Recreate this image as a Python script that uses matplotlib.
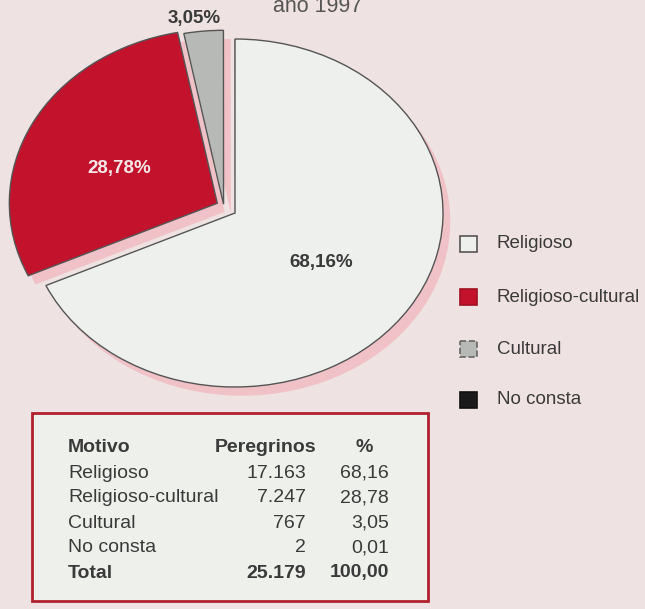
import matplotlib.pyplot as plt
from matplotlib.patches import Rectangle

plt.rcParams['font.family'] = ['Liberation Sans', 'DejaVu Sans']

motivos = ["Religioso", "Religioso-cultural", "Cultural", "No consta"]
peregrinos = [17163, 7247, 767, 2]
porcentajes = [68.16, 28.78, 3.05, 0.01]
total_peregrinos = 25179
total_pct = 100.00
colores = ["#eef0ee", "#c2122c", "#b6b9b6", "#1a1a1a"]
titulo = "año 1997"

W, H = 645, 609
txt = "#3a3a3a"


def pct(v):
    return f"{v:.2f}".replace(".", ",")


def miles(v):
    return f"{v:,}".replace(",", ".")


fig = plt.figure(figsize=(W / 100, H / 100), dpi=100)
fig.patch.set_facecolor("#efe2e2")

# pie axes sized so one data unit is 208 px wide and 174 px tall (tilted look)
cx, cy, rx, ry, span = 235, 213, 208, 174, 1.3
ax = fig.add_axes([(cx - span * rx) / W, (H - cy - span * ry) / H,
                   2 * span * rx / W, 2 * span * ry / H])

offsets = [(0, 0), (-0.085, 0.056), (-0.055, 0.05), (0, 0)]

# pink underside of the 3d pie
shadow, _ = ax.pie(porcentajes, colors=["#f0c2c7"] * 4, startangle=90,
                   counterclock=False, wedgeprops=dict(linewidth=0))
for w, (dx, dy) in zip(shadow, offsets):
    w.set_center((dx + 0.035, dy - 0.05))

wedges, _ = ax.pie(porcentajes, colors=colores, startangle=90, counterclock=False,
                   wedgeprops=dict(edgecolor="#555555", linewidth=1.0))
for w, (dx, dy) in zip(wedges, offsets):
    w.set_center((dx, dy))
wedges[3].set_linewidth(0)

ax.set_aspect("auto")
ax.set_xlim(-span, span)
ax.set_ylim(-span, span)
ax.axis("off")

# overlay in pixel coordinates for text, legend and table
ov = fig.add_axes([0, 0, 1, 1])
ov.set_xlim(0, W)
ov.set_ylim(H, 0)
ov.axis("off")
ov.patch.set_alpha(0)

ov.text(318, 12, titulo, ha="center", va="baseline", fontsize=15.5, color="#555555")

ov.text(321, 262, pct(porcentajes[0]) + "%", ha="center", va="center",
        fontsize=13.5, fontweight="bold", color=txt)
ov.text(119, 168, pct(porcentajes[1]) + "%", ha="center", va="center",
        fontsize=13.5, fontweight="bold", color="#f4e8e8")
ov.text(194, 18, pct(porcentajes[2]) + "%", ha="center", va="center",
        fontsize=13.5, fontweight="bold", color=txt)

# legend
leg_y = [244, 297, 349, 400]
leg_edges = ["#555555", "#a01020", "#666666", "#111111"]
leg_styles = ["solid", "solid", "dashed", "solid"]
for name, c, ec, ls, y in zip(motivos, colores, leg_edges, leg_styles, leg_y):
    ov.add_patch(Rectangle((460, y - 8), 17, 16, facecolor=c, edgecolor=ec,
                           linewidth=1.2, linestyle=ls))
    ov.text(497, y, name, ha="left", va="center", fontsize=13.5, color=txt)

# table
ov.add_patch(Rectangle((32, 413), 396, 188, facecolor="#eef0ec",
                       edgecolor="#b0202e", linewidth=2))
rows_y = [448, 473, 498, 523, 548, 573]
ov.text(68, rows_y[0], "Motivo", ha="left", va="center", fontsize=14,
        fontweight="bold", color=txt)
ov.text(316, rows_y[0], "Peregrinos", ha="right", va="center", fontsize=14,
        fontweight="bold", color=txt)
ov.text(364, rows_y[0], "%", ha="center", va="center", fontsize=14,
        fontweight="bold", color=txt)
for name, n, p, y in zip(motivos, peregrinos, porcentajes, rows_y[1:5]):
    ov.text(68, y, name, ha="left", va="center", fontsize=14, color=txt)
    ov.text(306, y, miles(n), ha="right", va="center", fontsize=14, color=txt)
    ov.text(389, y, pct(p), ha="right", va="center", fontsize=14, color=txt)
ov.text(68, rows_y[5], "Total", ha="left", va="center", fontsize=14,
        fontweight="bold", color=txt)
ov.text(306, rows_y[5], miles(total_peregrinos), ha="right", va="center",
        fontsize=14, fontweight="bold", color=txt)
ov.text(389, rows_y[5], pct(total_pct), ha="right", va="center", fontsize=14,
        fontweight="bold", color=txt)

fig.savefig("out.png", dpi=100, facecolor=fig.get_facecolor())
